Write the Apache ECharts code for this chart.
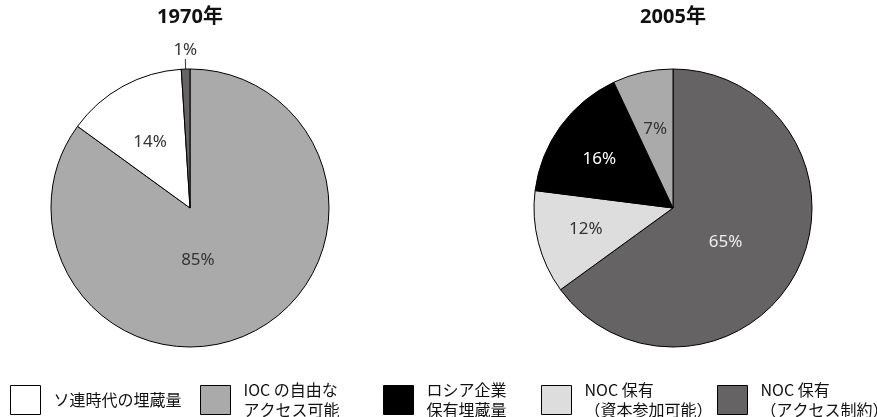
<!DOCTYPE html>
<html>
<head>
<meta charset="utf-8">
<script src="https://cdn.jsdelivr.net/npm/echarts@6/dist/echarts.min.js"></script>
<style>html,body{margin:0;padding:0;background:#fff;}#c{width:877px;height:417px;}</style>
</head>
<body>
<div id="c"></div>
<script>
// ---- data ----
const CATEGORIES = [
  'ソ連時代の埋蔵量',
  'IOC の自由な\nアクセス可能',
  'ロシア企業\n保有埋蔵量',
  'NOC 保有\n（資本参加可能）',
  'NOC 保有\n（アクセス制約）'
];
const COLORS = ['#ffffff', '#a9aaa9', '#000000', '#dcdddc', '#656363'];
const TITLES = ['1970年', '2005年'];
// 1970 (clockwise from top): IOC 85, Soviet 14, NOC restricted 1
const CAT_1970 = [1, 0, 4];
const VAL_1970 = [85, 14, 1];
// 2005 (clockwise from top): NOC restricted 65, NOC capital 12, Russian 16, IOC 7
const CAT_2005 = [4, 3, 2, 1];
const VAL_2005 = [65, 12, 16, 7];

// ---- label styling (colours / nudges) ----
const LABEL_COLOR_1970 = ['#333', '#333', '#333'];
const LABEL_NUDGE_1970 = [[-25, -12], [-5, -2], [0, 0]];
const LABEL_COLOR_2005 = ['#eee', '#333', '#fff', '#333'];
const LABEL_NUDGE_2005 = [[-12, 1], [-17, 3], [-15, -6], [-2, -8]];

function buildData(cats, vals, colors, nudges, outsideIdx) {
  return cats.map((c, i) => {
    const item = {
      name: CATEGORIES[c],
      value: vals[i],
      itemStyle: { color: COLORS[c] },
      label: { color: colors[i], offset: nudges[i] }
    };
    if (i === outsideIdx) {
      item.label = { position: 'outside', color: '#333', distanceToLabelLine: 0 };
      item.labelLine = { show: true, length: 10, length2: 0, lineStyle: { color: '#333', width: 1 } };
    }
    return item;
  });
}

const FONT = '"Noto Sans", "Noto Sans CJK JP", sans-serif';
const pieBase = {
  type: 'pie',
  radius: 139,
  startAngle: 90,
  clockwise: true,
  avoidLabelOverlap: false,
  silent: true,
  itemStyle: { borderColor: '#000', borderWidth: 1 },
  label: { show: true, position: 'inside', formatter: '{c}%', fontSize: 17, fontFamily: FONT },
  labelLine: { show: false },
  emphasis: { disabled: true }
};

const chart = echarts.init(document.getElementById('c'), null, { renderer: 'canvas' });

const LEGEND_LEFT = [10, 200, 383, 541, 717];
const legends = CATEGORIES.map((name, i) => {
  const twoLine = name.indexOf('\n') >= 0;
  return {
    data: [name],
    left: LEGEND_LEFT[i],
    top: twoLine ? 377 : 385,
    padding: 0,
    orient: 'horizontal',
    icon: 'rect',
    itemWidth: 30,
    itemHeight: 29,
    selectedMode: false,
    itemStyle: { color: COLORS[i], borderColor: '#000', borderWidth: 1 },
    textStyle: {
      fontSize: 16, lineHeight: 20, color: '#111',
      fontFamily: '"Noto Sans CJK JP", sans-serif',
      padding: twoLine ? [0, 0, 6, 8] : [0, 0, 0, 8]
    }
  };
});

const titleStyle = { fontSize: 20, fontWeight: 'bold', color: '#111', fontFamily: FONT };
chart.setOption({
  animation: false,
  backgroundColor: '#fff',
  title: [
    { text: TITLES[0], left: 190, top: 7, padding: 0, textAlign: 'center', textStyle: titleStyle },
    { text: TITLES[1], left: 673, top: 7, padding: 0, textAlign: 'center', textStyle: titleStyle }
  ],
  legend: legends,
  series: [
    Object.assign({}, pieBase, {
      center: [190, 208],
      data: buildData(CAT_1970, VAL_1970, LABEL_COLOR_1970, LABEL_NUDGE_1970, 2),
      labelLayout: function (p) {
        if (p.dataIndex === 2) return { align: 'center', verticalAlign: 'bottom' };
      }
    }),
    Object.assign({}, pieBase, {
      center: [673, 208],
      data: buildData(CAT_2005, VAL_2005, LABEL_COLOR_2005, LABEL_NUDGE_2005, -1)
    })
  ]
});
</script>
</body>
</html>
